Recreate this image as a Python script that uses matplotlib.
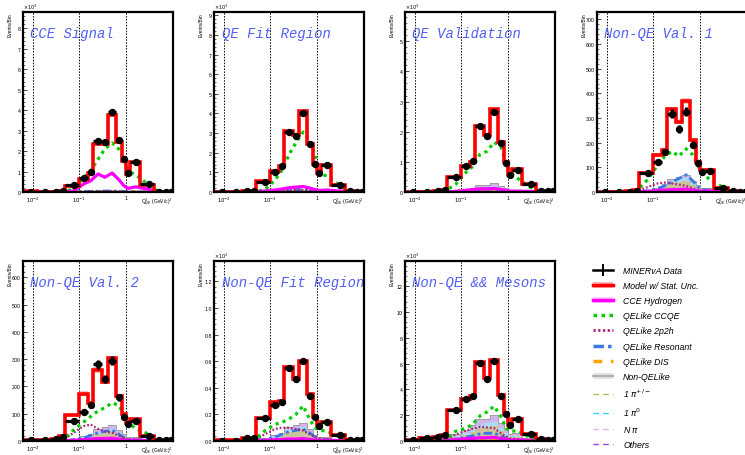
import numpy as np
import matplotlib
matplotlib.use('Agg')
import matplotlib.pyplot as plt
from matplotlib.lines import Line2D
from matplotlib.patches import Patch
from matplotlib.ticker import MultipleLocator, FixedLocator, LogLocator, NullFormatter, FormatStrFormatter

plt.rcParams['font.family'] = ['Liberation Sans', 'DejaVu Sans']

# Q2_QE bin edges (GeV/c)^2
edges = np.array([0.00625, 0.0125, 0.025, 0.0375, 0.05, 0.1, 0.15, 0.2, 0.3, 0.4,
                  0.6, 0.8, 1.0, 1.2, 2.0, 4.0, 6.0, 8.0, 10.0])

titles = ['CCE Signal', 'QE Fit Region', 'QE Validation', 'Non-QE Val. 1',
          'Non-QE Val. 2', 'Non-QE Fit Region', 'Non-QE && Mesons']
# events/bin are stored in displayed units; multiplier is the axis exponent
multiplier = [1e3, 1e3, 1e3, 1, 1, 1e3, 1e3]
ymax = [8.8, 9.17, 5.97, 730, 660, 1.354, 13.95]
ymajor = [1, 1, 1, 100, 100, 0.2, 2]
yminor = [0.2, 0.2, 0.2, 20, 20, 0.04, 0.4]

data_counts = [
    [0.0, 0.01, 0.02, 0.05, 0.35, 0.68, 1.0, 2.5, 2.45, 3.9, 2.52, 1.6, 0.95, 1.48, 0.38, 0.02, 0.01, 0.01],
    [0.0, 0.01, 0.03, 0.06, 0.53, 1.04, 1.33, 3.07, 2.86, 4.05, 2.44, 1.45, 0.95, 1.38, 0.37, 0.05, 0.02, 0.02],
    [0.0, 0.01, 0.02, 0.05, 0.51, 0.86, 1.02, 2.18, 1.87, 2.65, 1.62, 0.97, 0.55, 0.73, 0.25, 0.03, 0.02, 0.02],
    [0, 1, 2, 5, 76, 123, 161, 318, 256, 325, 191, 117, 82, 86, 18, 3, 2, 2],
    [3, 3, 6, 15, 75, 107, 131, 282, 227, 294, 160, 88, 64, 72, 17, 3, 2, 2],
    [0.003, 0.003, 0.02, 0.022, 0.172, 0.27, 0.29, 0.55, 0.47, 0.60, 0.34, 0.18, 0.11, 0.14, 0.046, 0.005, 0.005, 0.005],
    [0.08, 0.2, 0.3, 0.45, 2.4, 3.23, 3.47, 6.05, 4.82, 6.2, 3.52, 2.09, 1.25, 1.69, 0.57, 0.12, 0.1, 0.08],
]
model_counts = [
    [0.03, 0.01, 0.02, 0.04, 0.3, 0.64, 0.95, 2.35, 2.33, 3.75, 2.45, 1.52, 0.88, 1.45, 0.36, 0.02, 0.01, 0.01],
    [0.01, 0.01, 0.03, 0.06, 0.55, 1.05, 1.35, 3.1, 2.9, 4.15, 2.45, 1.45, 0.95, 1.4, 0.37, 0.05, 0.02, 0.02],
    [0.01, 0.01, 0.02, 0.05, 0.5, 0.85, 1.0, 2.2, 1.9, 2.75, 1.65, 0.98, 0.55, 0.75, 0.25, 0.03, 0.02, 0.02],
    [2, 2, 3, 8, 78, 150, 170, 335, 285, 368, 210, 122, 88, 90, 18, 3, 2, 2],
    [5, 5, 8, 20, 94, 174, 141, 260, 217, 303, 165, 100, 65, 80, 18, 4, 3, 3],
    [0.005, 0.005, 0.02, 0.025, 0.175, 0.29, 0.3, 0.56, 0.47, 0.6, 0.35, 0.18, 0.12, 0.14, 0.047, 0.005, 0.005, 0.005],
    [0.1, 0.2, 0.3, 0.45, 2.4, 3.25, 3.5, 6.1, 4.85, 6.3, 3.55, 2.1, 1.25, 1.7, 0.57, 0.12, 0.1, 0.08],
]
ccqe = [
    [0, 0, 0, 0, 0.15, 0.7, 1.05, 1.6, 2.1, 2.4, 2.1, 1.6, 1.0, 0.85, 0.35, 0.02, 0, 0],
    [0, 0, 0, 0.02, 0.1, 0.6, 1.1, 1.9, 2.5, 3.05, 2.6, 1.9, 1.0, 0.8, 0.35, 0.03, 0, 0],
    [0, 0, 0, 0.02, 0.25, 0.65, 0.85, 1.25, 1.35, 1.65, 1.5, 1.0, 0.65, 0.45, 0.15, 0.02, 0, 0],
    [0, 0, 0, 2, 50, 110, 145, 165, 145, 175, 150, 105, 80, 50, 20, 2, 0, 0],
    [0, 0, 0, 3, 40, 70, 90, 110, 122, 140, 130, 95, 70, 45, 25, 2, 0, 0],
    [0, 0, 0, 0.005, 0.075, 0.125, 0.14, 0.165, 0.2, 0.265, 0.16, 0.1, 0.08, 0.075, 0.03, 0, 0, 0],
    [0, 0, 0, 0.05, 0.75, 1.0, 1.3, 1.95, 2.25, 2.7, 1.9, 1.0, 0.75, 0.8, 0.25, 0.02, 0, 0],
]
hydrogen = [
    [0, 0, 0, 0, 0.05, 0.4, 0.55, 0.88, 0.72, 0.93, 0.6, 0.3, 0.18, 0.25, 0.13, 0.01, 0, 0],
    [0, 0, 0, 0, 0.05, 0.1, 0.15, 0.22, 0.25, 0.28, 0.2, 0.12, 0.08, 0.1, 0.05, 0, 0, 0],
    [0, 0, 0, 0, 0.02, 0.05, 0.08, 0.1, 0.1, 0.12, 0.08, 0.05, 0.03, 0.03, 0.02, 0, 0, 0],
    [0, 0, 0, 0, 3, 6, 8, 10, 10, 12, 8, 5, 3, 4, 2, 0, 0, 0],
    [0, 0, 0, 0, 3, 5, 7, 9, 9, 10, 7, 4, 3, 3, 1, 0, 0, 0],
    [0, 0, 0, 0, 0.005, 0.01, 0.012, 0.015, 0.015, 0.018, 0.012, 0.008, 0.005, 0.005, 0.002, 0, 0, 0],
    [0, 0, 0, 0.01, 0.12, 0.18, 0.2, 0.25, 0.25, 0.28, 0.2, 0.12, 0.08, 0.08, 0.03, 0, 0, 0],
]
twop2h = [
    [0, 0, 0, 0, 0.01, 0.02, 0.03, 0.04, 0.04, 0.04, 0.03, 0.02, 0.01, 0.01, 0, 0, 0, 0],
    [0, 0, 0, 0, 0.03, 0.06, 0.08, 0.1, 0.1, 0.1, 0.07, 0.04, 0.03, 0.03, 0.01, 0, 0, 0],
    [0, 0, 0, 0, 0.04, 0.08, 0.1, 0.12, 0.12, 0.12, 0.08, 0.05, 0.03, 0.03, 0.01, 0, 0, 0],
    [0, 0, 0, 1, 20, 35, 38, 35, 30, 25, 15, 8, 5, 5, 2, 0, 0, 0],
    [0, 0, 0, 2, 30, 55, 60, 45, 35, 30, 20, 10, 6, 5, 2, 0, 0, 0],
    [0, 0, 0, 0.003, 0.05, 0.09, 0.1, 0.1, 0.09, 0.08, 0.05, 0.03, 0.02, 0.015, 0.005, 0, 0, 0],
    [0, 0, 0, 0.05, 0.5, 0.8, 0.95, 1.1, 1.05, 1.0, 0.6, 0.35, 0.2, 0.15, 0.05, 0, 0, 0],
]
resonant = [
    [0, 0, 0, 0, 0.01, 0.02, 0.03, 0.04, 0.05, 0.05, 0.04, 0.02, 0.01, 0.01, 0, 0, 0, 0],
    [0, 0, 0, 0, 0.02, 0.05, 0.07, 0.1, 0.12, 0.12, 0.08, 0.05, 0.03, 0.03, 0.01, 0, 0, 0],
    [0, 0, 0, 0, 0.02, 0.04, 0.06, 0.08, 0.1, 0.1, 0.07, 0.04, 0.02, 0.02, 0.01, 0, 0, 0],
    [0, 0, 0, 0, 5, 15, 25, 40, 55, 70, 45, 20, 10, 8, 2, 0, 0, 0],
    [0, 0, 0, 0, 5, 12, 20, 30, 35, 40, 25, 12, 6, 5, 2, 0, 0, 0],
    [0, 0, 0, 0, 0.01, 0.03, 0.05, 0.07, 0.08, 0.09, 0.06, 0.03, 0.015, 0.01, 0.003, 0, 0, 0],
    [0, 0, 0, 0, 0.15, 0.3, 0.4, 0.55, 0.6, 0.6, 0.4, 0.2, 0.1, 0.08, 0.02, 0, 0, 0],
]
dis = [
    [0, 0, 0, 0, 0.01, 0.01, 0.01, 0.02, 0.02, 0.02, 0.01, 0.01, 0.01, 0.01, 0, 0, 0, 0],
    [0, 0, 0, 0, 0.01, 0.01, 0.02, 0.02, 0.02, 0.02, 0.02, 0.01, 0.01, 0.01, 0, 0, 0, 0],
    [0, 0, 0, 0, 0.01, 0.01, 0.01, 0.02, 0.02, 0.02, 0.01, 0.01, 0.01, 0.01, 0, 0, 0, 0],
    [0, 0, 0, 0, 1, 1, 2, 2, 3, 3, 2, 1, 1, 1, 0, 0, 0, 0],
    [0, 0, 0, 0, 1, 1, 2, 2, 2, 3, 2, 1, 1, 1, 0, 0, 0, 0],
    [0, 0, 0, 0, 0.002, 0.003, 0.004, 0.004, 0.005, 0.005, 0.004, 0.002, 0.001, 0.001, 0, 0, 0, 0],
    [0, 0, 0, 0, 0.03, 0.04, 0.05, 0.06, 0.06, 0.06, 0.04, 0.03, 0.02, 0.02, 0.01, 0, 0, 0],
]
pi_charged = [
    [0] * 18,
    [0, 0, 0, 0, 0.01, 0.02, 0.03, 0.05, 0.05, 0.06, 0.04, 0.02, 0.01, 0.01, 0, 0, 0, 0],
    [0, 0, 0, 0, 0.02, 0.05, 0.08, 0.12, 0.14, 0.16, 0.1, 0.06, 0.03, 0.04, 0.01, 0, 0, 0],
    [0, 0, 0, 0, 5, 10, 20, 35, 40, 45, 30, 20, 12, 12, 3, 0, 0, 0],
    [0, 0, 0, 0, 5, 10, 15, 25, 30, 35, 25, 15, 8, 8, 3, 0, 0, 0],
    [0, 0, 0, 0, 0.01, 0.02, 0.04, 0.07, 0.08, 0.09, 0.06, 0.03, 0.02, 0.02, 0.005, 0, 0, 0],
    [0, 0, 0, 0.02, 0.3, 0.5, 0.7, 1.0, 1.1, 1.2, 0.8, 0.5, 0.3, 0.3, 0.1, 0, 0, 0],
]
pi_zero = [
    [0] * 18,
    [0, 0, 0, 0, 0.005, 0.01, 0.01, 0.01, 0.01, 0.01, 0.01, 0.005, 0, 0, 0, 0, 0, 0],
    [0, 0, 0, 0, 0.01, 0.02, 0.02, 0.03, 0.03, 0.04, 0.03, 0.02, 0.01, 0.01, 0, 0, 0, 0],
    [0, 0, 0, 0, 2, 4, 6, 8, 8, 10, 6, 4, 2, 2, 1, 0, 0, 0],
    [0, 0, 0, 0, 2, 3, 5, 6, 7, 8, 5, 3, 2, 2, 1, 0, 0, 0],
    [0, 0, 0, 0, 0.005, 0.01, 0.01, 0.015, 0.015, 0.015, 0.01, 0.005, 0.003, 0.003, 0.001, 0, 0, 0],
    [0, 0, 0, 0, 0.1, 0.15, 0.2, 0.25, 0.3, 0.3, 0.2, 0.1, 0.06, 0.06, 0.02, 0, 0, 0],
]
n_pi = [
    [0] * 18,
    [0, 0, 0, 0, 0.01, 0.01, 0.02, 0.03, 0.03, 0.04, 0.03, 0.02, 0.01, 0.01, 0, 0, 0, 0],
    [0, 0, 0, 0, 0.02, 0.03, 0.04, 0.06, 0.06, 0.1, 0.06, 0.04, 0.02, 0.02, 0.01, 0, 0, 0],
    [0, 0, 0, 0, 1, 2, 4, 8, 10, 12, 8, 5, 3, 3, 1, 0, 0, 0],
    [0, 0, 0, 0, 2, 4, 6, 10, 12, 15, 10, 6, 3, 3, 1, 0, 0, 0],
    [0, 0, 0, 0, 0.005, 0.01, 0.01, 0.02, 0.02, 0.025, 0.015, 0.01, 0.005, 0.005, 0.002, 0, 0, 0],
    [0, 0, 0, 0, 0.1, 0.2, 0.3, 0.4, 0.3, 0.5, 0.4, 0.3, 0.2, 0.25, 0.1, 0, 0, 0],
]
others = [
    [0] * 18,
    [0] * 18,
    [0, 0, 0, 0, 0, 0.005, 0.005, 0.01, 0.01, 0.01, 0.005, 0, 0, 0, 0, 0, 0, 0],
    [0, 0, 0, 0, 0, 1, 1, 2, 2, 2, 1, 1, 0, 0, 0, 0, 0, 0],
    [0, 0, 0, 0, 0, 1, 1, 2, 2, 2, 1, 1, 0, 0, 0, 0, 0, 0],
    [0, 0, 0, 0, 0, 0.002, 0.002, 0.003, 0.003, 0.003, 0.002, 0.001, 0, 0, 0, 0, 0, 0],
    [0, 0, 0, 0, 0.01, 0.02, 0.03, 0.04, 0.04, 0.05, 0.03, 0.02, 0.01, 0.01, 0, 0, 0, 0],
]

legend_labels = ['MINERvA Data', 'Model w/ Stat. Unc.', 'CCE Hydrogen', 'QELike CCQE',
                 'QELike 2p2h', 'QELike Resonant', 'QELike DIS', 'Non-QELike',
                 r'1 $\pi^{+/-}$', r'1 $\pi^{0}$', r'N $\pi$', 'Others']

# colours
c_ccqe = '#00cc00'
c_2p2h = '#b0207a'
c_res = '#3a78e8'
c_dis = '#ffa500'
stack_colors = ['#c9c49c', '#a8dcf2', '#d2b4ea', '#b080f0']
line_colors = ['#a8c050', '#30d0f0', '#e6b4f4', '#a040f0']
title_color = '#4f5ff2'

W, H = 745, 456
fig = plt.figure(figsize=(W / 100, H / 100), dpi=100)

col_left = [23, 214, 405, 597]
row_top = [13, 262]
pw, ph = 150, 180
slots = [(0, 0), (0, 1), (0, 2), (0, 3), (1, 0), (1, 1), (1, 2)]

centers = 0.5 * (edges[:-1] + edges[1:])

for i, (r, c) in enumerate(slots):
    ax = fig.add_axes([col_left[c] / W, (H - row_top[r] - ph) / H, pw / W, ph / H])
    ax.set_xscale('log')
    ax.set_xlim(edges[0], edges[-1])
    ax.set_ylim(0, ymax[i])

    for xv in [0.01, 0.1, 1.0]:
        ax.axvline(xv, color='black', lw=0.7, ls=(0, (1.5, 1.5)), zorder=1)

    # non-QElike stacked backgrounds
    bottom = np.zeros(len(centers))
    for comp, col in zip([pi_charged, pi_zero, n_pi, others], stack_colors):
        top = bottom + np.array(comp[i])
        ax.stairs(top, edges, baseline=bottom, fill=True, color=col, lw=0, zorder=2)
        bottom = top
    ax.stairs(bottom, edges, color='#a0a0a0', lw=0.7, zorder=2)

    ax.plot(centers, dis[i], color=c_dis, lw=2, ls=(0, (2, 2)), zorder=3)
    ax.plot(centers, resonant[i], color=c_res, lw=2, ls=(0, (3, 1.2, 1, 1.2)), zorder=3)
    ax.plot(centers, twop2h[i], color=c_2p2h, lw=1.6, ls=(0, (0.8, 0.9)), zorder=3)
    ax.plot(centers, ccqe[i], color=c_ccqe, lw=2.3, ls=(0, (1, 1.3)), zorder=4)
    ax.plot(centers, hydrogen[i], color='magenta', lw=2.3, zorder=4)

    model = np.array(model_counts[i])
    data = np.array(data_counts[i])
    m = multiplier[i]
    # MC statistical band (larger MC sample than data)
    band = 0.6 * np.sqrt(model * m) / m
    ax.stairs(model + band, edges, baseline=model - band, fill=True,
              color='#ff9a9a', alpha=0.6, lw=0, zorder=5)
    ax.stairs(model, edges, color='red', lw=2.6, zorder=6)

    derr = np.sqrt(data * m) / m
    ax.errorbar(centers, data, xerr=[centers - edges[:-1], edges[1:] - centers], yerr=derr,
                fmt='o', color='black', ms=4.3, elinewidth=2.3, capsize=0, zorder=7)

    ax.text(0.05, 0.885, titles[i], transform=ax.transAxes, color=title_color,
            fontsize=10, family='Liberation Mono', style='italic', va='center', ha='left',
            zorder=8)

    # axes cosmetics
    for s in ax.spines.values():
        s.set_linewidth(1.6)
        s.set_zorder(9)
    ax.xaxis.set_major_locator(FixedLocator([0.01, 0.1, 1.0]))
    ax.xaxis.set_minor_locator(LogLocator(base=10, subs=np.arange(2, 10)))
    ax.xaxis.set_minor_formatter(NullFormatter())
    ax.set_xticklabels([r'$10^{-2}$', r'$10^{-1}$', '1'])
    ax.yaxis.set_major_locator(MultipleLocator(ymajor[i]))
    ax.yaxis.set_minor_locator(MultipleLocator(yminor[i]))
    if ymajor[i] < 1:
        ax.yaxis.set_major_formatter(FormatStrFormatter('%.1f'))
    else:
        ax.yaxis.set_major_formatter(FormatStrFormatter('%d'))
    ax.tick_params(axis='both', which='major', direction='in', length=3, width=0.5,
                   labelsize=3.8, pad=1.5)
    ax.tick_params(axis='both', which='minor', direction='in', length=1.6, width=0.4)
    ax.tick_params(axis='x', pad=1.8)

    ax.text(-0.088, 1.0, 'Events/Bin', transform=ax.transAxes, rotation=90,
            fontsize=3.5, ha='center', va='top')
    if m > 1:
        ax.text(0.0, 1.006, r'$\times10^{3}$', transform=ax.transAxes, fontsize=3.5,
                ha='left', va='bottom')
    ax.text(1.0, -0.022, r'Q$^{2}_{QE}$ (GeV/c)$^{2}$', transform=ax.transAxes,
            fontsize=3.6, ha='right', va='top')

handles = [
    Line2D([], [], color='black', lw=1.8, marker='|', ms=8, mew=1.4),
    (Patch(fc='#ffb4b4', ec='none'), Line2D([], [], color='red', lw=2.5)),
    (Patch(fc='#ffc8ff', ec='none'), Line2D([], [], color='magenta', lw=2.5)),
    Line2D([], [], color=c_ccqe, lw=2.5, ls=(0, (1, 1.3))),
    Line2D([], [], color=c_2p2h, lw=2, ls=(0, (0.8, 0.9))),
    Line2D([], [], color=c_res, lw=2.5, ls=(0, (3, 1.2, 1, 1.2))),
    Line2D([], [], color=c_dis, lw=2.5, ls=(0, (2.5, 2.5))),
    (Patch(fc='#e4e4e4', ec='none'), Line2D([], [], color='#b0b0b0', lw=1.5)),
] + [Line2D([], [], color=col, lw=1.0, ls=(0, (4, 3))) for col in line_colors]

fig.legend(handles, legend_labels, loc='upper left', bbox_to_anchor=(593 / W, 1 - 267 / H),
           frameon=False, prop={'style': 'italic', 'size': 6.3},
           handlelength=2.3, handletextpad=1.15, labelspacing=0.7, borderpad=0,
           borderaxespad=0)

fig.savefig('out.png', dpi=100)
